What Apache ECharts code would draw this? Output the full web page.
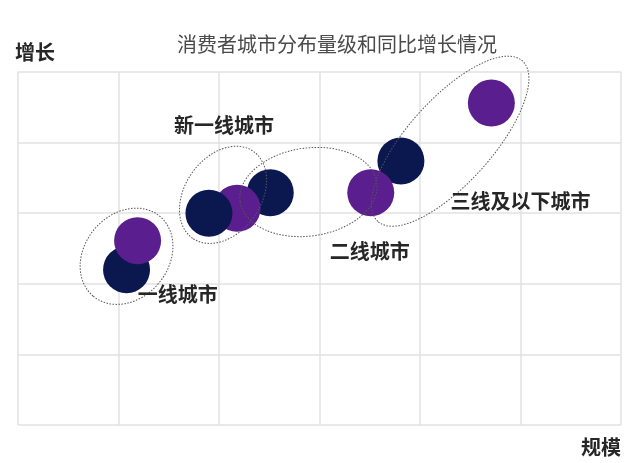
<!DOCTYPE html>
<html>
<head>
<meta charset="utf-8">
<script src="https://cdn.jsdelivr.net/npm/echarts@6/dist/echarts.min.js"></script>
<style>
  html, body {margin: 0; padding: 0; background: #fff;}
  #main {width: 640px; height: 463px;}
</style>
</head>
<body>
<div id="main"></div>
<script>
// 规模 (x) / 增长 (y), grid units
const navyPoints = [[1.08, 2.20], [1.90, 3.00], [2.51, 3.29], [3.81, 3.74]];
const purplePoints = [[1.19, 2.61], [2.18, 3.07], [3.51, 3.29], [4.71, 4.56]];
// draw order (later on top)
const drawOrder = [['navy', 2], ['purple', 1], ['navy', 1], ['navy', 0], ['purple', 0], ['navy', 3], ['purple', 2], ['purple', 3]];

const tierNames = ['一线城市', '新一线城市', '二线城市', '三线及以下城市'];
const tierLabelPos = [[1.59, 1.85], [2.05, 4.24], [3.50, 2.46], [5.00, 3.16]];
const ringCenters = [[1.08, 2.39], [2.04, 3.26], [2.89, 3.30], [4.30, 4.02]];

// ring shape in px: semi-major, semi-minor, tilt deg
const ringShape = [[52, 42, 50], [53, 38, 55], [69, 44, 8], [108, 42, 48]];
const colors = {navy: '#0b1850', purple: '#5a1e8e'};
const font = '"Noto Sans CJK SC", "Noto Sans", sans-serif';

let bubbleData = drawOrder.map(function (o) {
  let p = o[0] === 'navy' ? navyPoints[o[1]] : purplePoints[o[1]];
  return {value: p, itemStyle: {color: colors[o[0]]}};
});

let myChart = echarts.init(document.getElementById('main'));
let option = {
  animation: false,
  title: {
    text: '消费者城市分布量级和同比增长情况',
    left: 172,
    top: 29,
    textStyle: {fontFamily: font, fontSize: 20, fontWeight: 'normal', color: '#4a4a4a'}
  },
  graphic: [
    {type: 'text', left: 15, top: 42, style: {text: '增长', font: 'bold 20px ' + font, fill: '#262626'}},
    {type: 'text', left: 581, top: 437, style: {text: '规模', font: 'bold 20px ' + font, fill: '#262626'}}
  ],
  grid: {left: 18, right: 19, top: 72, bottom: 38},
  xAxis: {
    type: 'value', min: 0, max: 6, interval: 1,
    axisLine: {show: false}, axisTick: {show: false}, axisLabel: {show: false},
    splitLine: {show: true, lineStyle: {color: '#e2e2e2', width: 1.5}}
  },
  yAxis: {
    type: 'value', min: 0, max: 5, interval: 1,
    axisLine: {show: false}, axisTick: {show: false}, axisLabel: {show: false},
    splitLine: {show: true, lineStyle: {color: '#e2e2e2', width: 1.5}}
  },
  series: [
    {
      type: 'scatter',
      symbolSize: 47,
      itemStyle: {opacity: 1},
      data: bubbleData,
      z: 2
    },
    {
      type: 'custom',
      z: 3,
      data: ringCenters,
      renderItem: function (params, api) {
        let c = api.coord([api.value(0), api.value(1)]);
        let s = ringShape[params.dataIndex];
        return {
          type: 'ellipse',
          x: c[0], y: c[1],
          rotation: s[2] * Math.PI / 180,
          shape: {cx: 0, cy: 0, rx: s[0], ry: s[1]},
          style: {fill: 'none', stroke: '#555', lineWidth: 1, lineDash: [1.5, 1.5]}
        };
      }
    },
    {
      type: 'scatter',
      symbolSize: 0,
      z: 4,
      itemStyle: {opacity: 1},
      data: tierLabelPos.map(function (p, i) {
        return {value: p, name: tierNames[i]};
      }),
      label: {
        show: true,
        position: 'inside',
        formatter: '{b}',
        fontFamily: font,
        fontSize: 20,
        fontWeight: 'bold',
        color: '#262626'
      }
    }
  ]
};
myChart.setOption(option);
</script>
</body>
</html>
